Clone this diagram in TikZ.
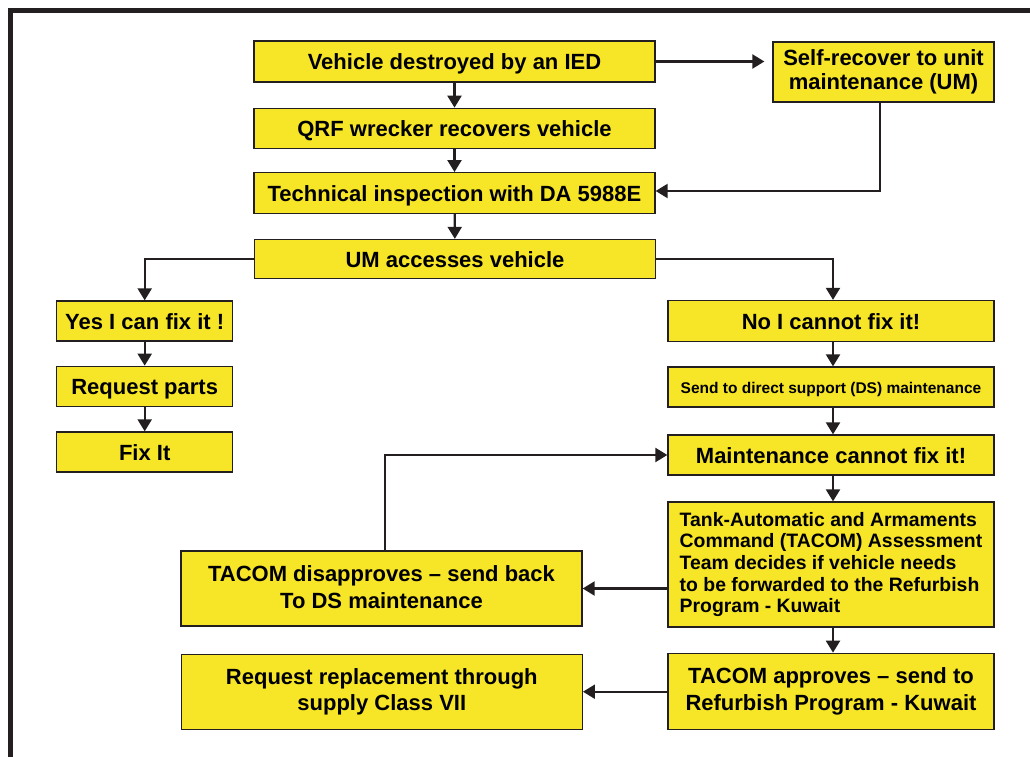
\documentclass[tikz,border=0pt]{standalone}
\usepackage{fontspec}
\setmainfont{Liberation Sans}
\usetikzlibrary{arrows.meta}
\definecolor{boxyellow}{RGB}{247,230,40}
\definecolor{ink}{RGB}{35,31,32}
\begin{document}
\begin{tikzpicture}[x=1pt,y=-1pt,
  box/.style={draw=ink, line width=1.3pt, fill=boxyellow, rectangle, inner sep=0pt,
    align=center, text=black, font=\bfseries\fontsize{22}{26.7}\selectfont},
  one/.style={text height=17pt, text depth=0pt},
  conn/.style={draw=ink, line width=2.2pt, -{Triangle[length=12pt,width=14pt]}}]
\useasboundingbox (0,0) rectangle (1030,757);
% frame
\fill[ink] (8,8) rectangle (1030,13);
\fill[ink] (8,8) rectangle (13,757);
% nodes
\node[box, one, minimum width=401pt, minimum height=41pt] (ied) at (454.5,61.5) {Vehicle destroyed by an IED};
\node[box, minimum width=221pt, minimum height=60pt, font=\bfseries\fontsize{22}{24}\selectfont] (self) at (883.5,72) {Self-recover to unit\\maintenance (UM)};
\node[box, one, minimum width=401pt, minimum height=40pt] (qrf) at (454.5,128.3) {QRF wrecker recovers vehicle};
\node[box, one, minimum width=401pt, minimum height=40.6pt] (tech) at (454.5,193) {Technical inspection with DA 5988E};
\node[box, one, minimum width=401pt, minimum height=39pt] (um) at (455,259) {UM accesses vehicle};
\node[box, one, minimum width=176pt, minimum height=40pt] (yes) at (144.7,321) {Yes I can fix it !};
\node[box, one, minimum width=176pt, minimum height=40pt] (parts) at (144.7,386.3) {Request parts};
\node[box, one, minimum width=176pt, minimum height=40pt] (fix) at (144.7,452) {Fix It};
\node[box, one, minimum width=326pt, minimum height=41pt] (no) at (831,321) {No I cannot fix it!};
\node[box, minimum width=326pt, minimum height=40pt, text height=12.6pt, text depth=0pt, font=\bfseries\fontsize{15.5}{18}\selectfont] (send) at (831,387) {Send to direct support (DS) maintenance};
\node[box, one, minimum width=326pt, minimum height=40pt] (maint) at (831,455) {Maintenance cannot fix it!};
\node[box, minimum width=326pt, minimum height=125pt, align=left, font=\bfseries\fontsize{19.4}{21.7}\selectfont] (assess) at (831,564.5) {Tank-Automatic and Armaments\\Command (TACOM) Assessment\\Team decides if vehicle needs\\to be forwarded to the Refurbish\\Program - Kuwait};
\node[box, minimum width=401pt, minimum height=75pt] (disapp) at (381.5,588.5) {TACOM disapproves – send back\\To DS maintenance\rule[-3pt]{0pt}{3pt}};
\node[box, minimum width=326pt, minimum height=76pt] (approve) at (831,691.3) {TACOM approves – send to\\Refurbish Program - Kuwait};
\node[box, minimum width=401pt, minimum height=75pt] (replace) at (381.8,691.7) {Request replacement through\\supply Class VII};
% connectors
\draw[conn, shorten >=8pt] (ied.east) -- (ied.east -| self.west);
\draw[conn] (ied) -- (qrf);
\draw[conn] (qrf) -- (tech);
\draw[conn] ([xshift=-3.5pt]self.south) |- ([yshift=2pt]tech.east);
\draw[conn] (tech) -- (um);
\draw[conn] (um.west) -| (yes.north);
\draw[conn] (um.east) -| ([xshift=2pt]no.north);
\draw[conn] (yes) -- (parts);
\draw[conn] (parts) -- (fix);
\draw[conn] ([xshift=2pt]no.south) -- ([xshift=2pt]send.north);
\draw[conn] ([xshift=2pt]send.south) -- ([xshift=2pt]maint.north);
\draw[conn] ([xshift=2pt]maint.south) -- ([xshift=2pt]assess.north);
\draw[conn] ([xshift=2pt]assess.south) -- ([xshift=2pt]approve.north);
\draw[conn] (assess.west |- disapp.east) -- (disapp.east);
\draw[conn] ([xshift=3.5pt]disapp.north) |- (maint.west);
\draw[conn] (approve.west |- replace.east) -- (replace.east);
\end{tikzpicture}
\end{document}
